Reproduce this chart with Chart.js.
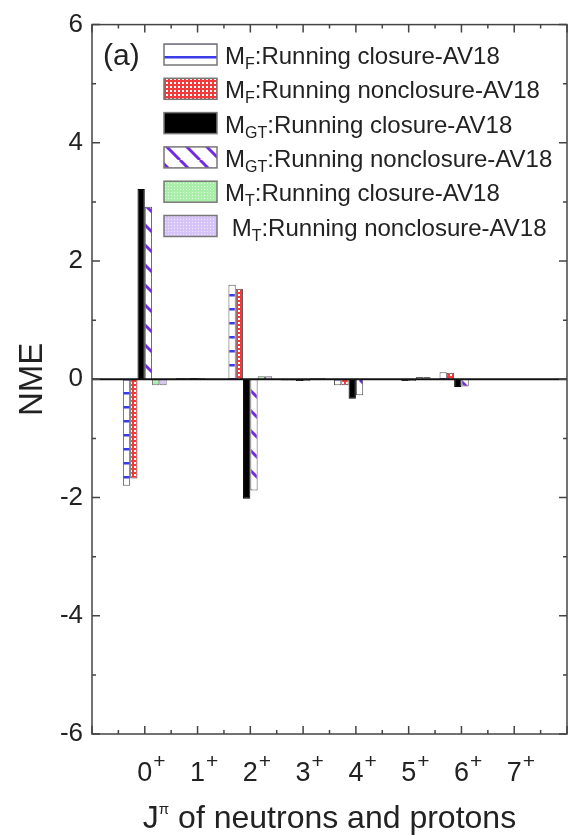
<!DOCTYPE html>
<html>
<head>
<meta charset="utf-8">
<script src="https://cdn.jsdelivr.net/npm/chart.js@4.4.1/dist/chart.umd.min.js"></script>
<style>
  html, body { margin: 0; padding: 0; background: #fff; }
  #wrap { width: 570px; height: 836px; position: relative; }
</style>
</head>
<body>
<div id="wrap"><canvas id="nmeChart"></canvas></div>
<script>
// J^pi channels of the neutron-proton pair
const spins = [0, 1, 2, 3, 4, 5, 6, 7];

// NME contributions per channel
const mfClosure     = [-1.80, 0.02,  1.60, -0.02, -0.10, -0.01,  0.12, 0.00];
const mfNonclosure  = [-1.68, 0.02,  1.53, -0.02, -0.10, -0.01,  0.11, 0.00];
const mgtClosure    = [ 3.22, 0.02, -2.02, -0.03, -0.33, -0.03, -0.13, 0.00];
const mgtNonclosure = [ 2.92, 0.02, -1.88, -0.03, -0.27, -0.03, -0.12, 0.00];
const mtClosure     = [-0.10, 0.01,  0.05,  0.02,  0.00,  0.04,  0.00, 0.00];
const mtNonclosure  = [-0.10, 0.01,  0.05,  0.02,  0.00,  0.04,  0.00, 0.00];

const seriesLabels = [
    'M_{F}:Running closure-AV18',
    'M_{F}:Running nonclosure-AV18',
    'M_{GT}:Running closure-AV18',
    'M_{GT}:Running nonclosure-AV18',
    'M_{T}:Running closure-AV18',
    ' M_{T}:Running nonclosure-AV18'
];

const yTicks = [-6, -4, -2, 0, 2, 4, 6];

const FONT = '"Liberation Sans", Arial, Helvetica, sans-serif';

// --- fill patterns ---
function makeTile(w, h, paint) {
    const c = document.createElement('canvas');
    c.width = w; c.height = h;
    const g = c.getContext('2d');
    paint(g, w, h);
    return g.createPattern(c, 'repeat');
}

const blueLines = makeTile(14, 14, function (g, w, h) {
    g.fillStyle = '#fff'; g.fillRect(0, 0, w, h);
    g.fillStyle = '#3b3be8'; g.fillRect(0, 0, w, 2.5);
});
const redGrid = makeTile(4, 4, function (g, w, h) {
    g.fillStyle = '#f23a3a'; g.fillRect(0, 0, w, h);
    g.fillStyle = '#fff'; g.fillRect(2, 2, 2, 2);
});
const purpleDiag = makeTile(20, 20, function (g, w, h) {
    g.fillStyle = '#fff'; g.fillRect(0, 0, w, h);
    g.strokeStyle = '#7428e0'; g.lineWidth = 3;
    for (let k = -1; k <= 1; k++) {
        g.beginPath(); g.moveTo(k * w, 0); g.lineTo(k * w + w, h); g.stroke();
    }
});
const greenDots = makeTile(3, 3, function (g, w, h) {
    g.fillStyle = '#a9efa9'; g.fillRect(0, 0, w, h);
    g.fillStyle = '#e4fbe4'; g.fillRect(0, 0, 1, 1);
});
const lilacDots = makeTile(3, 3, function (g, w, h) {
    g.fillStyle = '#d6c3f8'; g.fillRect(0, 0, w, h);
    g.fillStyle = '#f1e9fd'; g.fillRect(0, 0, 1, 1);
});

function toPoints(values) {
    return values.map(function (v, i) { return { x: spins[i], y: v }; });
}

// splits 'M_{GT}:text' into plain / subscript parts
function richParts(label) {
    return label.split(/_\{([^}]*)\}/).map(function (t, i) {
        return { text: t, sub: i % 2 === 1 };
    });
}

function drawRich(ctx, parts, x, y, size, subSize, subDrop) {
    ctx.textAlign = 'left';
    ctx.textBaseline = 'alphabetic';
    parts.forEach(function (p) {
        if (p.sub) {
            ctx.font = subSize + 'px ' + FONT;
            ctx.fillText(p.text, x, y + subDrop);
        } else {
            ctx.font = size + 'px ' + FONT;
            ctx.fillText(p.text, x, y);
        }
        x += ctx.measureText(p.text).width;
    });
}

const decorations = {
    id: 'decorations',
    afterDatasetsDraw: function (chart) {
        const ctx = chart.ctx;
        const a = chart.chartArea;
        const y0 = chart.scales.y.getPixelForValue(0);
        ctx.save();
        ctx.strokeStyle = '#111';
        ctx.lineWidth = 2;
        ctx.beginPath(); ctx.moveTo(a.left, y0); ctx.lineTo(a.right, y0); ctx.stroke();
        ctx.restore();
    },
    afterDraw: function (chart) {
        const ctx = chart.ctx;
        const a = chart.chartArea;
        const xs = chart.scales.x;
        const ys = chart.scales.y;
        ctx.save();

        // frame
        ctx.strokeStyle = '#444';
        ctx.lineWidth = 1.5;
        ctx.strokeRect(a.left, a.top, a.right - a.left, a.bottom - a.top);

        // inward ticks on all four sides
        ctx.beginPath();
        for (let v = -1; v <= 8; v += 0.5) {
            const px = xs.getPixelForValue(v);
            const len = Number.isInteger(v) ? 8 : 4;
            ctx.moveTo(px, a.bottom); ctx.lineTo(px, a.bottom - len);
            ctx.moveTo(px, a.top); ctx.lineTo(px, a.top + len);
        }
        for (let v = -6; v <= 6; v += 1) {
            const py = ys.getPixelForValue(v);
            const len = v % 2 === 0 ? 8 : 4;
            ctx.moveTo(a.left, py); ctx.lineTo(a.left + len, py);
            ctx.moveTo(a.right, py); ctx.lineTo(a.right - len, py);
        }
        ctx.stroke();

        // x tick labels: J^pi values with a raised plus sign
        ctx.fillStyle = '#222';
        ctx.textBaseline = 'alphabetic';
        spins.forEach(function (s) {
            const px = xs.getPixelForValue(s);
            ctx.font = '27px ' + FONT;
            const w = ctx.measureText(String(s)).width;
            ctx.textAlign = 'center';
            ctx.fillText(String(s), px, 781);
            ctx.font = '21px ' + FONT;
            ctx.textAlign = 'left';
            ctx.fillText('+', px + w / 2 + 1, 768);
        });

        // x axis title
        const titleParts = [
            { text: 'J', size: 32, dy: 0 },
            { text: '\u03c0', size: 15, dy: -14 },
            { text: ' of neutrons and protons', size: 32, dy: 0 }
        ];
        let total = 0;
        titleParts.forEach(function (p) {
            ctx.font = p.size + 'px ' + FONT;
            p.w = ctx.measureText(p.text).width;
            total += p.w;
        });
        let tx = (a.left + a.right) / 2 - total / 2;
        ctx.textAlign = 'left';
        titleParts.forEach(function (p) {
            ctx.font = p.size + 'px ' + FONT;
            ctx.fillText(p.text, tx, 828 + p.dy);
            tx += p.w;
        });

        // y axis title
        ctx.save();
        ctx.translate(42, (a.top + a.bottom) / 2);
        ctx.rotate(-Math.PI / 2);
        ctx.font = '33px ' + FONT;
        ctx.textAlign = 'center';
        ctx.fillText('NME', 0, 0);
        ctx.restore();

        // panel tag
        ctx.font = '30px ' + FONT;
        ctx.textAlign = 'left';
        ctx.fillText('(a)', 103, 65);

        // legend
        chart.data.datasets.forEach(function (ds, i) {
            const top = 44 + i * 34.3;
            ctx.fillStyle = ds.backgroundColor;
            ctx.fillRect(164, top, 53, 21);
            ctx.strokeStyle = '#777';
            ctx.lineWidth = 1.5;
            ctx.strokeRect(164, top, 53, 21);
            ctx.fillStyle = '#222';
            drawRich(ctx, richParts(seriesLabels[i]), 225, top + 20, 24, 16, 5);
        });

        ctx.restore();
    }
};

const palette = [blueLines, redGrid, '#000', purpleDiag, greenDots, lilacDots];
const edges = ['#555', '#555', '#000', '#555', '#666', '#666'];
const series = [mfClosure, mfNonclosure, mgtClosure, mgtNonclosure, mtClosure, mtNonclosure];

new Chart(document.getElementById('nmeChart'), {
    type: 'bar',
    data: {
        datasets: series.map(function (vals, i) {
            return {
                label: seriesLabels[i].replace(/_\{([^}]*)\}/, '$1').trim(),
                data: toPoints(vals),
                backgroundColor: palette[i],
                borderColor: edges[i],
                borderWidth: 1,
                barPercentage: 1,
                categoryPercentage: 0.83
            };
        })
    },
    options: {
        responsive: true,
        maintainAspectRatio: false,
        animation: false,
        layout: { padding: { top: 20, right: 3, left: 0, bottom: 0 } },
        plugins: {
            legend: { display: false },
            tooltip: { enabled: false }
        },
        scales: {
            x: {
                type: 'linear',
                min: -1,
                max: 8,
                offset: false,
                grid: { display: false, drawTicks: false, offset: false },
                border: { display: false },
                ticks: { display: false, stepSize: 1 },
                afterFit: function (scale) { scale.height = 102; }
            },
            y: {
                min: -6,
                max: 6,
                grid: { display: false, drawTicks: false },
                border: { display: false },
                afterBuildTicks: function (scale) {
                    scale.ticks = yTicks.map(function (v) { return { value: v }; });
                },
                ticks: {
                    padding: 9,
                    color: '#222',
                    font: { family: FONT, size: 26 }
                },
                afterFit: function (scale) { scale.width = 92; }
            }
        }
    },
    plugins: [decorations]
});
</script>
</body>
</html>
